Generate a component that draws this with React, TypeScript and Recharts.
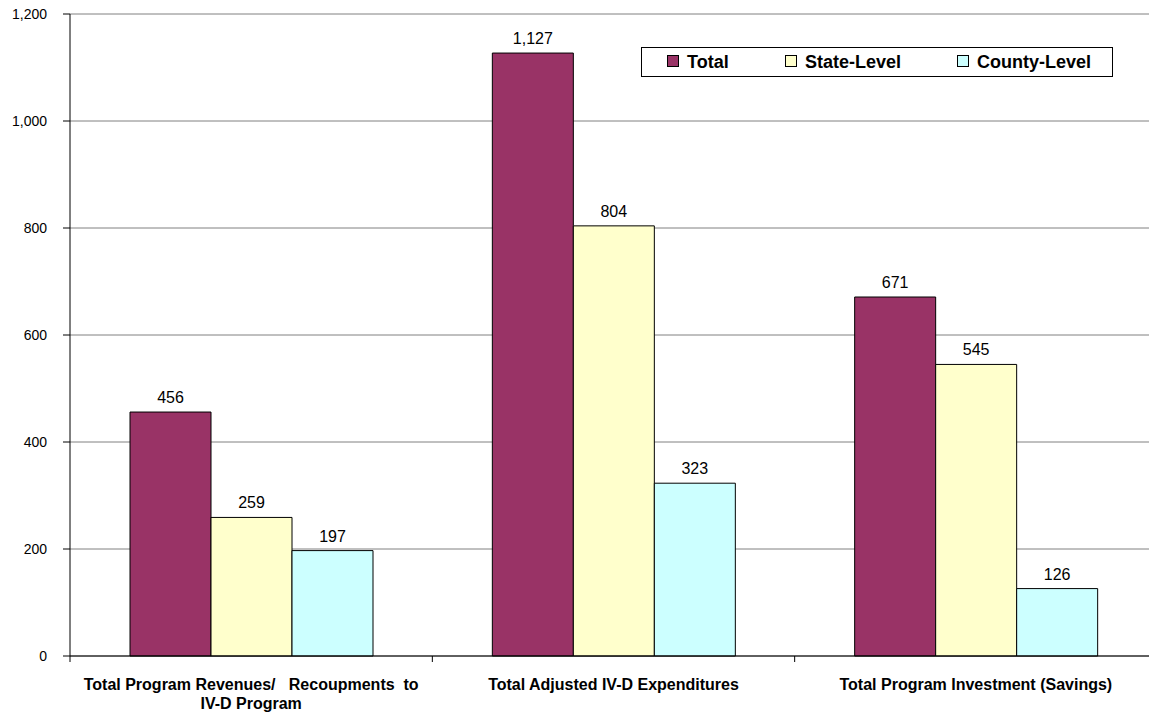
import React from "react";
import {
  Bar,
  BarChart,
  CartesianGrid,
  LabelList,
  Legend,
  XAxis,
  YAxis,
} from "recharts";

const categories = [
  "Total Program Revenues/   Recoupments  to\nIV-D Program",
  "Total Adjusted IV-D Expenditures",
  "Total Program Investment (Savings)",
];
const totalValues = [456, 1127, 671];
const stateValues = [259, 804, 545];
const countyValues = [197, 323, 126];
const yTicks = [0, 200, 400, 600, 800, 1000, 1200];

const seriesInfo = [
  { key: "total", name: "Total", color: "#993366" },
  { key: "state", name: "State-Level", color: "#FFFFCC" },
  { key: "county", name: "County-Level", color: "#CCFFFF" },
];

const data = categories.map((name, i) => ({
  name,
  total: totalValues[i],
  state: stateValues[i],
  county: countyValues[i],
}));

const FONT = "'Liberation Sans', Arial, sans-serif";
const CHART_W = 1160;
const CHART_H = 713;
const Y_AXIS_W = 70;
const RIGHT_M = 3;
const BAND = (CHART_W - Y_AXIS_W - RIGHT_M) / categories.length;

const fmt = (v: number) => v.toLocaleString("en-US");

const CategoryTick = (props: any) => {
  const { x, y, payload } = props;
  const lines = String(payload.value).split("\n");
  return (
    <g>
      <line x1={x - BAND / 2} y1={y - 8} x2={x - BAND / 2} y2={y - 2} stroke="#000" />
      <text
        x={x}
        y={y}
        textAnchor="middle"
        fontFamily={FONT}
        fontSize={16}
        fontWeight="bold"
        fill="#000"
        style={{ whiteSpace: "pre" }}
      >
        {lines.map((l, i) => (
          <tspan key={i} x={x} dy={i === 0 ? 26 : 19}>
            {l}
          </tspan>
        ))}
      </text>
    </g>
  );
};

// left offsets of each legend entry inside the box
const legendOffsets = [25, 143, 315];

const LegendBox = () => (
  <div
    style={{
      position: "relative",
      width: 470,
      height: 28,
      border: "1px solid #000",
      background: "#fff",
      fontFamily: FONT,
      fontWeight: "bold",
      fontSize: 18,
      color: "#000",
    }}
  >
    {seriesInfo.map((s, i) => (
      <div
        key={s.key}
        style={{
          position: "absolute",
          left: legendOffsets[i],
          top: 0,
          height: 28,
          display: "flex",
          alignItems: "center",
          whiteSpace: "nowrap",
        }}
      >
        <span
          style={{
            display: "inline-block",
            width: 10,
            height: 10,
            background: s.color,
            border: "1px solid #000",
            marginRight: 8,
            marginTop: -2,
          }}
        />
        <span>{s.name}</span>
      </div>
    ))}
  </div>
);

export default function App() {
  return (
    <div
      style={{
        position: "absolute",
        left: 0,
        top: 0,
        width: 1149,
        height: 713,
        overflow: "hidden",
        background: "#fff",
      }}
    >
      <BarChart
        width={CHART_W}
        height={CHART_H}
        data={data}
        margin={{ top: 14, right: RIGHT_M, bottom: 0, left: 0 }}
        barCategoryGap={60}
        barGap={0}
      >
        <CartesianGrid vertical={false} stroke="#808080" />
        <XAxis
          dataKey="name"
          height={57}
          axisLine={{ stroke: "#000" }}
          tickLine={false}
          tick={<CategoryTick />}
          interval={0}
        />
        <YAxis
          width={Y_AXIS_W}
          domain={[0, 1200]}
          ticks={yTicks}
          tickFormatter={fmt}
          axisLine={{ stroke: "#000" }}
          tickLine={{ stroke: "#000" }}
          tickSize={7}
          tickMargin={16}
          tick={{ fontFamily: FONT, fontSize: 14, fill: "#000" }}
          interval={0}
        />
        <Legend
          layout="vertical"
          verticalAlign="middle"
          align="center"
          content={<LegendBox />}
          wrapperStyle={{ position: "absolute", left: 641, top: 47, width: 472 }}
        />
        {seriesInfo.map((s) => (
          <Bar
            key={s.key}
            dataKey={s.key}
            name={s.name}
            fill={s.color}
            stroke="#000"
            strokeWidth={1}
            isAnimationActive={false}
          >
            <LabelList
              dataKey={s.key}
              position="top"
              offset={9}
              formatter={(v: any) => fmt(Number(v))}
              style={{ fontFamily: FONT, fontSize: 16, fill: "#000" }}
            />
          </Bar>
        ))}
      </BarChart>
    </div>
  );
}
